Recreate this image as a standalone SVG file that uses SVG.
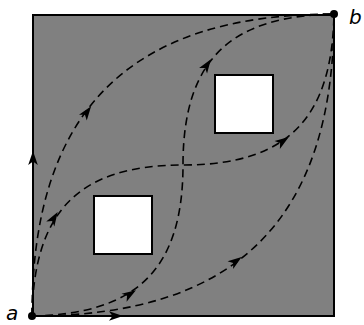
<svg xmlns="http://www.w3.org/2000/svg" xmlns:xlink="http://www.w3.org/1999/xlink" width="364" height="325" viewBox="0 0 364 325">
  <style>
    .region { fill: #808080; stroke: none; }
    .hole { fill: #ffffff; stroke: #000000; stroke-width: 2; }
    .edge { fill: none; stroke: #000000; stroke-width: 2; stroke-linejoin: miter; }
    .path { fill: none; stroke: #000000; stroke-width: 1.6; stroke-dasharray: 8 5; }
    .head { fill: #000000; stroke: none; }
    .dot { fill: #000000; }
    .lbl { font-family: "DejaVu Sans", "Liberation Sans", sans-serif; font-style: italic; font-size: 20px; fill: #000000; }
  </style>
  <defs>
    <path id="ah" class="head" d="M7,0 L-7,-4.8 L-3.5,0 L-7,4.8 Z"/>
  </defs>

  <g id="region">
    <rect class="region" x="33" y="15" width="301" height="301"/>
  </g>
  <g id="hole1">
    <rect class="hole" x="94" y="196" width="58" height="58"/>
  </g>
  <g id="hole2">
    <rect class="hole" x="215" y="75" width="58" height="58"/>
  </g>

  <g id="connectors">
    <path class="edge" d="M33,316 L33,15 L334,15"/>
    <path class="edge" d="M33,316 L334,316 L334,15"/>
    <path class="path" d="M32,316 C32,111 129,14 334,14"/>
    <path class="path" d="M32,316 C237,316 334,219 334,14"/>
    <path class="path" d="M32,316 C34,215 75,165 183,165 C291,165 332,115 334,14"/>
    <path class="path" d="M32,316 C133,314 183,273 183,165 C183,57 233,16 334,14"/>
    <use xlink:href="#ah" transform="translate(33,158) rotate(-90)"/>
    <use xlink:href="#ah" transform="translate(116,316)"/>
    <use xlink:href="#ah" transform="translate(87,112) rotate(-54)"/>
    <use xlink:href="#ah" transform="translate(236,261) rotate(-36)"/>
    <use xlink:href="#ah" transform="translate(54,218) rotate(-58)"/>
    <use xlink:href="#ah" transform="translate(130,294) rotate(-32)"/>
    <use xlink:href="#ah" transform="translate(283,141) rotate(-34)"/>
    <use xlink:href="#ah" transform="translate(207,65) rotate(-56)"/>
  </g>

  <g id="node-a">
    <circle class="dot" cx="32" cy="316" r="4"/>
    <text class="lbl" x="6" y="320">a</text>
  </g>
  <g id="node-b">
    <circle class="dot" cx="334" cy="14" r="4"/>
    <text class="lbl" x="349" y="24">b</text>
  </g>
</svg>
